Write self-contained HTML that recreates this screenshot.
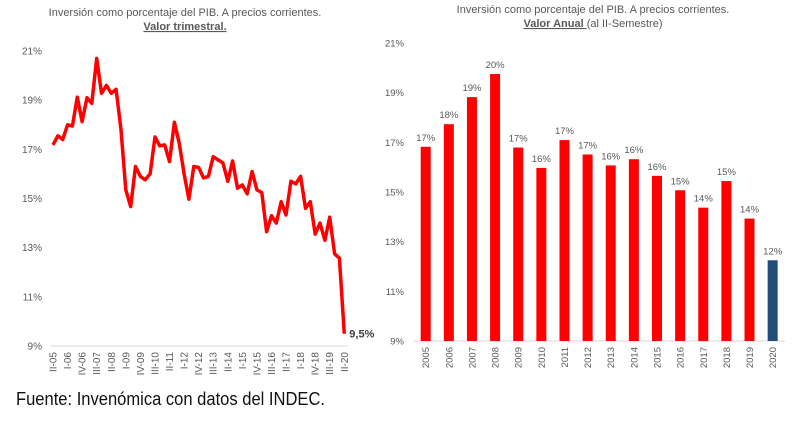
<!DOCTYPE html>
<html><head><meta charset="utf-8"><style>
html,body{margin:0;padding:0;background:#fff;width:800px;height:426px;overflow:hidden}
svg{display:block;font-family:"Liberation Sans",sans-serif}
</style></head><body>
<svg id="root" width="800" height="426" viewBox="0 0 800 426">
<g id="left">
<text x="185" y="16" text-anchor="middle" font-size="11" fill="#595959">Inversión como porcentaje del PIB. A precios corrientes.</text>
<text x="185" y="30" text-anchor="middle" font-size="11" font-weight="bold" fill="#595959" text-decoration="underline">Valor trimestral.</text>
</g>
<g id="right">
<text x="593" y="13" text-anchor="middle" font-size="11" fill="#595959">Inversión como porcentaje del PIB. A precios corrientes.</text>
<text x="593" y="27" text-anchor="middle" font-size="11" fill="#595959"><tspan font-weight="bold" text-decoration="underline">Valor Anual </tspan>(al II-Semestre)</text>
</g>
<text x="16" y="405" font-size="18" fill="#111" textLength="309" lengthAdjust="spacingAndGlyphs">Fuente: Invenómica con datos del INDEC.</text>
</svg>
<script>
const qTickLabels = ["II-05","I-06","IV-06","III-07","II-08","I-09","IV-09","III-10","II-11","I-12","IV-12","III-13","II-14","I-15","IV-15","III-16","II-17","I-18","IV-18","III-19","II-20"];
const qValues = [17.18,17.55,17.4,18.0,17.95,19.12,18.13,19.1,18.87,20.7,19.28,19.6,19.28,19.44,17.8,15.35,14.67,16.3,15.9,15.76,16.0,17.5,17.14,17.18,16.5,18.1,17.25,16.0,14.97,16.3,16.26,15.84,15.9,16.7,16.57,16.45,15.7,16.53,15.42,15.55,15.19,16.1,15.35,15.24,13.65,14.3,14.0,14.87,14.33,15.7,15.6,15.9,14.6,14.87,13.55,14.0,13.3,14.24,12.75,12.57,9.5];
const yTicks = [9,11,13,15,17,19,21];
const years = ["2005","2006","2007","2008","2009","2010","2011","2012","2013","2014","2015","2016","2017","2018","2019","2020"];
const annualValues = [16.82,17.73,18.82,19.75,16.79,15.97,17.09,16.51,16.07,16.32,15.65,15.07,14.37,15.44,13.93,12.25];

const NS="http://www.w3.org/2000/svg";
function mk(tag, attrs, parent){const e=document.createElementNS(NS,tag);for(const k in attrs)e.setAttribute(k,attrs[k]);parent.appendChild(e);return e;}
const L=document.getElementById('left'), R=document.getElementById('right');

// left chart
const lx0=53, lx1=344.3;
const ly=v=>346-(v-9)*(295/12);
const lx=i=>lx0+i*(lx1-lx0)/(qValues.length-1);
yTicks.forEach(t=>{
  const tx=mk('text',{x:42,y:ly(t)+3.5,'text-anchor':'end','font-size':10,fill:'#595959'},L);
  tx.textContent=t+'%';
  
  
});
const la=mk('line',{x1:50,x2:348,y1:ly(9),y2:ly(9),stroke:'#d9d9d9','stroke-width':1},L);


qTickLabels.forEach((s,k)=>{
  const x=lx(k*3);
  const tx=mk('text',{x:0,y:0,transform:`translate(${x+3.5},${352}) rotate(-90)`,'text-anchor':'end','font-size':10,fill:'#595959'},L);
  tx.textContent=s;
  
  
});
const pts=qValues.map((v,i)=>lx(i).toFixed(1)+','+ly(v).toFixed(1)).join(' ');
const pl=mk('polyline',{points:pts,fill:'none',stroke:'#ff0000','stroke-width':3.5,'stroke-linejoin':'round'},L);


const last=qValues[qValues.length-1];
const ll=mk('text',{x:lx(qValues.length-1)+5,y:ly(last)+4,'font-size':11,'font-weight':'bold',fill:'#404040'},L);
ll.textContent=String(last).replace('.',',')+'%';



// right chart
const rx0=425.7, rstep=23.13;
const ry=v=>341-(v-9)*(298/12);
yTicks.forEach(t=>{
  const tx=mk('text',{x:404,y:ry(t)+3.5,'text-anchor':'end','font-size':9.5,fill:'#595959'},R);
  tx.textContent=t+'%';
  
  
});
const ra=mk('line',{x1:414,x2:785,y1:ry(9),y2:ry(9),stroke:'#d9d9d9','stroke-width':1},R);


annualValues.forEach((v,i)=>{
  const cx=rx0+i*rstep;
  const b=mk('rect',{x:cx-5,y:ry(v),width:10,height:ry(9)-ry(v),fill:i===annualValues.length-1?'#1f4e79':'#ff0000'},R);
  
  
  const t=mk('text',{x:cx,y:ry(v)-6,'text-anchor':'middle','font-size':9.5,fill:'#595959'},R);
  t.textContent=Math.round(v)+'%';
  
  
  const yl=mk('text',{x:0,y:0,transform:`translate(${cx+3.5},${347}) rotate(-90)`,'text-anchor':'end','font-size':9.5,fill:'#595959'},R);
  yl.textContent=years[i];
  
  
});
</script>
</body></html>
